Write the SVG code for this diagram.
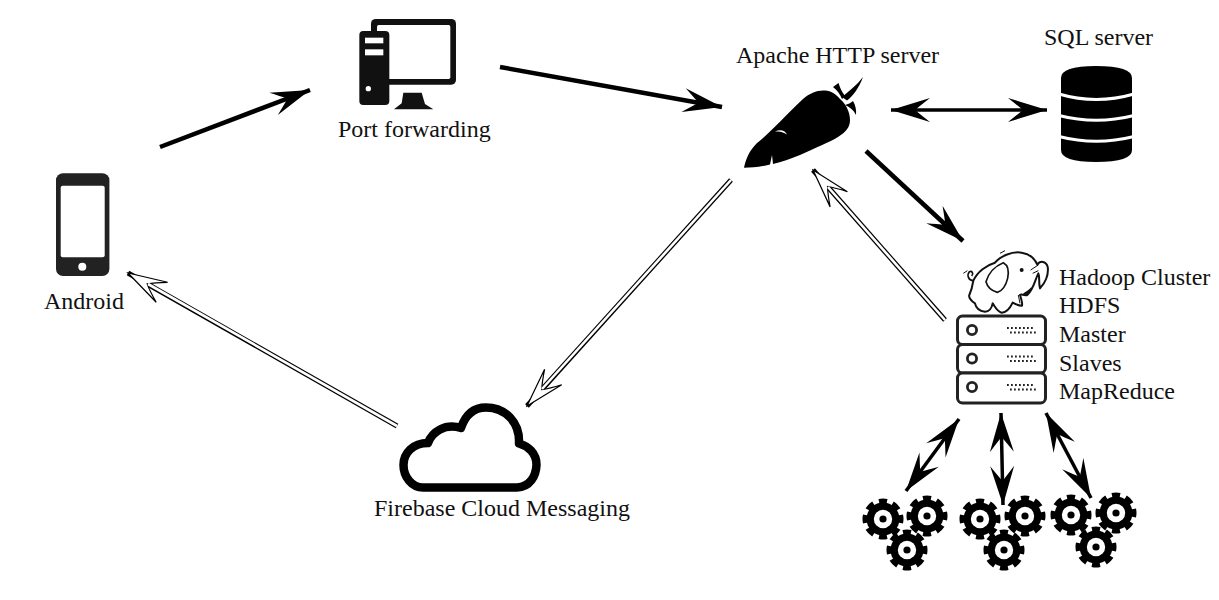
<svg xmlns="http://www.w3.org/2000/svg" width="1219" height="600" viewBox="0 0 1219 600">
<style>
text{font-family:"Liberation Serif","Times New Roman",serif;font-size:24px;fill:#111}
.a{fill:none;stroke:#000;stroke-width:4.5}
.s{marker-end:url(#h)}
.d{stroke-width:3.5;marker-start:url(#hs);marker-end:url(#h)}
.o{fill:none;stroke:#000;stroke-width:5;marker-end:url(#w)}
.i{fill:none;stroke:#fff;stroke-width:2.6}
.srv{fill:#fff;stroke:#222;stroke-width:3}
.led{fill:#fff;stroke:#222;stroke-width:2.8}
.dots{fill:none;stroke:#222;stroke-width:1.8;stroke-dasharray:1.8 2.2}
</style>
<defs>
<marker id="h" markerUnits="userSpaceOnUse" markerWidth="44" markerHeight="28" viewBox="-42 -14 44 28" refX="0" refY="0" orient="auto">
<path d="M0,0 L-39,-12 Q-30,-5 -24,0 Q-30,5 -39,12Z" fill="#000"/>
</marker>
<marker id="hs" markerUnits="userSpaceOnUse" markerWidth="44" markerHeight="28" viewBox="-2 -14 44 28" refX="0" refY="0" orient="auto">
<path d="M0,0 L39,-12 Q30,-5 24,0 Q30,5 39,12Z" fill="#000"/>
</marker>
<marker id="w" markerUnits="userSpaceOnUse" markerWidth="44" markerHeight="28" viewBox="-42 -14 44 28" refX="0" refY="0" orient="auto">
<path d="M0,0 L-39,-11.5 Q-28,-5 -22,0 Q-28,5 -39,11.5Z" fill="#fff" stroke="#000" stroke-width="1.2" stroke-linejoin="miter"/>
</marker>
<g id="gear">
<circle r="16.5" fill="#000"/>
<circle r="18" fill="none" stroke="#000" stroke-width="5" pathLength="80" stroke-dasharray="5.8 4.2" stroke-dashoffset="2.9"/>
<circle r="9.2" fill="#fff"/>
<circle r="3.6" fill="#000"/>
</g>
</defs>

<g id="connectors">
<line class="a s" x1="160" y1="147" x2="310" y2="90"/>
<line class="a s" x1="500" y1="67" x2="722" y2="107"/>
<line class="a d" x1="891" y1="110" x2="1047" y2="110"/>
<line class="a s" x1="866" y1="151" x2="963" y2="241"/>
<line class="a d" x1="959" y1="419" x2="906" y2="491"/>
<line class="a d" x1="1001" y1="413" x2="1003" y2="505"/>
<line class="a d" x1="1046" y1="413" x2="1091" y2="498"/>
<line class="o" x1="397" y1="426" x2="128" y2="273"/>
<line class="i" x1="397" y1="426" x2="148" y2="284"/>
<line class="o" x1="731" y1="180" x2="527" y2="406"/>
<line class="i" x1="731" y1="180" x2="542" y2="389"/>
<line class="o" x1="945" y1="320" x2="813" y2="170"/>
<line class="i" x1="945" y1="320" x2="828" y2="187"/>
</g>

<g id="android">
<rect x="56" y="173.3" width="53.4" height="102.7" rx="7" fill="#222"/>
<rect x="60.7" y="185.7" width="44" height="71.6" rx="2" fill="#fff"/>
<circle cx="82.3" cy="266.7" r="4" fill="#fff"/>
<text x="44" y="309">Android</text>
</g>

<g id="port-forwarding">
<g transform="translate(340,10) scale(.3333)">
<rect x="93" y="27" width="255" height="197" rx="14" fill="#111"/>
<rect x="111" y="45" width="220" height="162" rx="5" fill="#fff"/>
<rect x="58" y="63" width="90" height="222" rx="12" fill="#111"/>
<rect x="75" y="83" width="55" height="17" fill="#fff"/>
<rect x="75" y="118" width="55" height="18" fill="#fff"/>
<circle cx="85" cy="236" r="8" fill="#fff"/>
<path d="M190,248 H245 L255,282 L280,298 H162 L185,280Z" fill="#111"/>
</g>
<text x="338" y="137">Port forwarding</text>
</g>

<g id="apache">
<text x="736" y="63">Apache HTTP server</text>
<path d="M744,167.7 C746,158 750,150 757,143 C770,133 783,118 803,99 C810,93 817,90 825,90.5 C831,91 836,94 840,99 C846,104 850,112 850,120 C850,127 846,132 838,137 C830,142 815,148 800,155 C790,159 782,162 773,164 L772,155 L770,164.5 C760,167 752,167.7 744,167.7Z" fill="#000"/>
<path d="M775,131.5 C780,129 785,130 787,134.5 C783,132 780,131.5 775,131.5Z" fill="#fff"/>
<path d="M833,87 L838.5,83 C840,88 842,92 845,96 L842,99 C840,94 837,90 833,87Z" fill="#000"/>
<path d="M863,77 C859,88 853,96 847,100.5 L842,97 C849,91 857,85 863,77Z" fill="#000"/>
<path d="M845,105 C848,104 851,103 853,101 C855.5,105 856.5,110 856,115 C853.5,110 850,107 845,105Z" fill="#000"/>
</g>

<g id="sql-server">
<text x="1044" y="45">SQL server</text>
<path d="M1061,78 Q1061,66 1096,66 Q1132,66 1132,78 V150 Q1132,162 1096,162 Q1061,162 1061,150Z" fill="#000"/>
<path d="M1059,94 Q1096,105 1134,94" fill="none" stroke="#fff" stroke-width="3"/>
<path d="M1059,115.5 Q1096,125 1134,115.5" fill="none" stroke="#fff" stroke-width="3"/>
<path d="M1059,136.5 Q1096,146 1134,136.5" fill="none" stroke="#fff" stroke-width="3"/>
</g>

<g id="firebase">
<path d="M423,487.5 H517 C530,487 536,476 536.5,465 C536.5,453 528,446 519,443.5 C520,422 505,407.5 486,407.5 C473,407.5 465,416 461,428 C445,423 432,432 428,443 C413,443 403.5,453 403.5,465 C403.5,477 412,487.5 423,487.5Z" fill="none" stroke="#000" stroke-width="8.5" stroke-linejoin="round"/>
<text x="374" y="516">Firebase Cloud Messaging</text>
</g>

<g id="hadoop">
<g transform="translate(940,240) scale(.3333)">
<path d="M100,122 C112,95 140,75 165,68 C180,50 215,33 245,38 C270,42 285,58 292,74 C300,62 318,62 323,80 C327,105 315,130 300,145 C295,125 300,110 295,100 C285,120 280,150 262,165 C250,168 245,160 240,165 C245,180 248,190 246,197 C235,197 225,192 218,188 C210,205 200,218 185,218 C172,215 168,205 158,190 C155,205 148,215 135,215 C118,213 108,205 105,190 C95,185 85,172 88,165 C95,150 98,135 100,122Z" fill="#fff" stroke="#111" stroke-width="6" stroke-linejoin="round"/>
<path d="M138,125 C145,100 165,78 190,68 C203,75 208,90 203,115 C198,135 190,152 172,157 C155,152 142,140 138,125Z" fill="#fff" stroke="#111" stroke-width="5"/>
<path d="M100,122 C85,122 80,105 88,95 C96,92 102,100 95,108" fill="none" stroke="#111" stroke-width="5"/>
<path d="M250,160 C262,152 272,145 275,140 C272,155 265,165 252,167Z" fill="#111"/>
<circle cx="245" cy="90" r="6" fill="#111"/>
<path d="M272,90 L295,75 M278,100 L295,92 M70,100 L82,92 M180,40 L195,32 M235,165 L240,190" fill="none" stroke="#111" stroke-width="3"/>
</g>
<rect class="srv" x="957.5" y="316" width="88" height="28.5" rx="5"/>
<rect class="srv" x="957.5" y="344.5" width="88" height="28.5" rx="5"/>
<rect class="srv" x="957.5" y="373" width="88" height="30" rx="5"/>
<circle class="led" cx="972" cy="330" r="4.6"/>
<circle class="led" cx="972" cy="358.5" r="4.6"/>
<circle class="led" cx="972" cy="387" r="4.6"/>
<path class="dots" d="M1007,328 H1033 M1010,332.5 H1037 M1007,356.5 H1033 M1010,361 H1037 M1007,385 H1033 M1010,389.5 H1037"/>
<text x="1059" y="285">Hadoop Cluster</text>
<text x="1059" y="313">HDFS</text>
<text x="1059" y="342">Master</text>
<text x="1059" y="371">Slaves</text>
<text x="1059" y="399">MapReduce</text>
</g>

<g id="workers-1">
<use href="#gear" x="883" y="519"/>
<use href="#gear" x="927" y="516"/>
<use href="#gear" x="907" y="550"/>
</g>
<g id="workers-2">
<use href="#gear" x="980" y="519"/>
<use href="#gear" x="1025" y="516"/>
<use href="#gear" x="1004" y="550"/>
</g>
<g id="workers-3">
<use href="#gear" x="1071" y="515"/>
<use href="#gear" x="1116" y="513"/>
<use href="#gear" x="1096" y="547"/>
</g>
</svg>
